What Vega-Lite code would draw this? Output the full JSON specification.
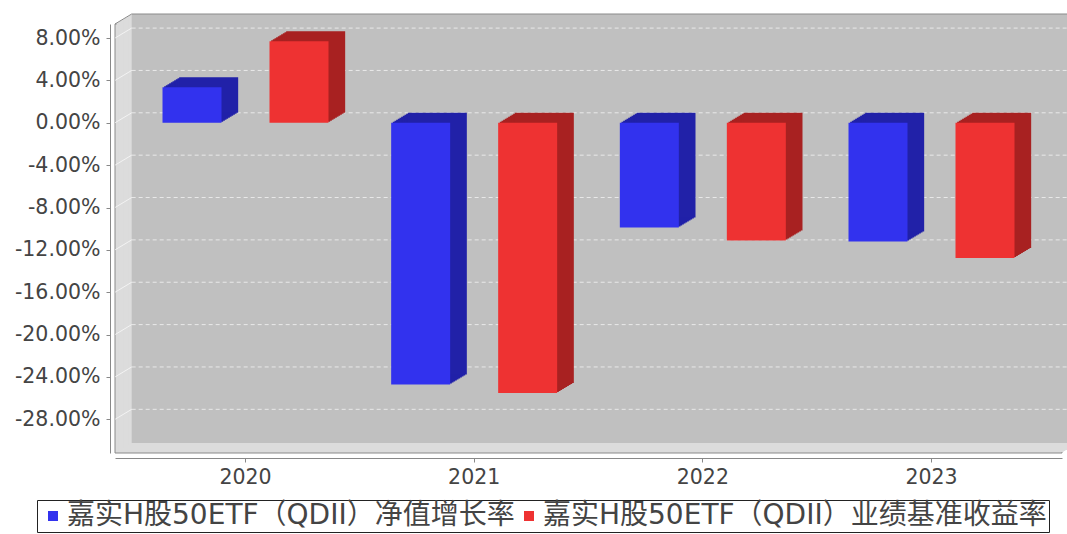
{
  "$schema": "https://vega.github.io/schema/vega-lite/v6.json",
  "width": 947,
  "height": 429,
  "autosize": "none",
  "padding": {"left": 115, "top": 24, "right": 5, "bottom": 81},
  "background": "white",
  "config": {"view": {"stroke": null}},
  "datasets": {
    "bars": [
      {"year": "2020", "series": "嘉实H股50ETF（QDII）净值增长率", "value": 3.35},
      {"year": "2020", "series": "嘉实H股50ETF（QDII）业绩基准收益率", "value": 7.69},
      {"year": "2021", "series": "嘉实H股50ETF（QDII）净值增长率", "value": -24.72},
      {"year": "2021", "series": "嘉实H股50ETF（QDII）业绩基准收益率", "value": -25.51},
      {"year": "2022", "series": "嘉实H股50ETF（QDII）净值增长率", "value": -9.88},
      {"year": "2022", "series": "嘉实H股50ETF（QDII）业绩基准收益率", "value": -11.11},
      {"year": "2023", "series": "嘉实H股50ETF（QDII）净值增长率", "value": -11.21},
      {"year": "2023", "series": "嘉实H股50ETF（QDII）业绩基准收益率", "value": -12.76}
    ],
    "ticks": [{"tick": 8}, {"tick": 4}, {"tick": 0}, {"tick": -4}, {"tick": -8}, {"tick": -12}, {"tick": -16}, {"tick": -20}, {"tick": -24}, {"tick": -28}]
  },
  "layer": [
    {
      "data": {"values": [{"wall": "box"}]},
      "encoding": {
        "x": {"datum": 0, "type": "quantitative", "title": null, "scale": {"domain": [0, 1], "nice": false, "zero": false}, "axis": null},
        "x2": {"datum": 1},
        "y": {"datum": 9.33, "type": "quantitative", "title": null},
        "y2": {"datum": -31.18}
      },
      "layer": [
        {"mark": {"type": "rect", "color": "#dcdcdc", "stroke": "#8a8a8a", "strokeWidth": 1}},
        {"mark": {"type": "rect", "color": "#dcdcdc", "xOffset": 1.667, "x2Offset": 1.667, "yOffset": -1, "y2Offset": -1}},
        {"mark": {"type": "rect", "color": "#dcdcdc", "xOffset": 3.333, "x2Offset": 3.333, "yOffset": -2, "y2Offset": -2}},
        {"mark": {"type": "rect", "color": "#dcdcdc", "xOffset": 5, "x2Offset": 5, "yOffset": -3, "y2Offset": -3}},
        {"mark": {"type": "rect", "color": "#dcdcdc", "xOffset": 6.667, "x2Offset": 6.667, "yOffset": -4, "y2Offset": -4}},
        {"mark": {"type": "rect", "color": "#dcdcdc", "xOffset": 8.333, "x2Offset": 8.333, "yOffset": -5, "y2Offset": -5}},
        {"mark": {"type": "rect", "color": "#dcdcdc", "xOffset": 10, "x2Offset": 10, "yOffset": -6, "y2Offset": -6}},
        {"mark": {"type": "rect", "color": "#dcdcdc", "xOffset": 11.667, "x2Offset": 11.667, "yOffset": -7, "y2Offset": -7}},
        {"mark": {"type": "rect", "color": "#dcdcdc", "xOffset": 13.333, "x2Offset": 13.333, "yOffset": -8, "y2Offset": -8}},
        {"mark": {"type": "rect", "color": "#dcdcdc", "xOffset": 15, "x2Offset": 15, "yOffset": -9, "y2Offset": -9}},
        {"mark": {"type": "rect", "color": "#dcdcdc", "xOffset": 16.667, "x2Offset": 16.667, "yOffset": -10, "y2Offset": -10}},
        {"mark": {"type": "rect", "color": "#c0c0c0", "xOffset": 16.667, "x2Offset": 16.667, "yOffset": -10, "y2Offset": -10}},
        {"mark": {"type": "rule", "color": "#8a8a8a", "xOffset": 16.667, "x2Offset": 16.667, "yOffset": -10, "y2Offset": -10}, "encoding": {"y2": {"datum": 9.33}}},
        {"mark": {"type": "rule", "color": "#8a8a8a", "x2Offset": 16.667, "y2Offset": -10}, "encoding": {"x2": {"datum": 0}, "y2": {"datum": 9.33}}}
      ]
    },
    {
      "data": {"name": "ticks"},
      "mark": {"type": "rule", "color": "#ffffff", "opacity": 0.65, "strokeDash": [4, 3], "xOffset": 16.667, "x2Offset": 16.667, "yOffset": -10, "y2Offset": -10},
      "encoding": {
        "x": {"datum": 0, "type": "quantitative", "title": null, "scale": {"domain": [0, 1], "nice": false, "zero": false}, "axis": null},
        "x2": {"datum": 1},
        "y": {"field": "tick", "type": "quantitative", "title": null},
        "y2": {"field": "tick"}
      }
    },
    {
      "data": {"name": "ticks"},
      "mark": {"type": "rule", "color": "#ffffff", "opacity": 0.65, "x2Offset": 16.667, "y2Offset": -10},
      "encoding": {
        "x": {"datum": 0, "type": "quantitative", "title": null, "scale": {"domain": [0, 1], "nice": false, "zero": false}, "axis": null},
        "x2": {"datum": 0},
        "y": {"field": "tick", "type": "quantitative", "title": null},
        "y2": {"field": "tick"}
      }
    },
    {
      "data": {"name": "bars"},
      "encoding": {
        "x": {
          "field": "year", "type": "nominal", "sort": ["2020", "2021", "2022", "2023"], "title": null,
          "scale": {"paddingInner": 0, "paddingOuter": 0.0707},
          "axis": {"title": null, "labelAngle": 0, "labelFontSize": 20.5, "labelFont": "DejaVu Sans", "labelColor": "#444444", "labelPadding": 5, "tickSize": 4, "tickColor": "#888888", "domainColor": "#888888", "offset": 5, "grid": false}
        },
        "y": {
          "field": "value", "type": "quantitative", "title": null,
          "scale": {"domain": [-31.18, 9.33], "nice": false, "zero": false},
          "axis": {"title": null, "values": [8, 4, 0, -4, -8, -12, -16, -20, -24, -28], "labelExpr": "replace(format(datum.value, '.2f'), '−', '-') + '%'", "labelFontSize": 20.5, "labelFont": "DejaVu Sans", "labelColor": "#444444", "labelPadding": 6, "tickSize": 4, "tickColor": "#888888", "domainColor": "#888888", "offset": 5, "grid": false}
        },
        "y2": {"datum": 0}
      },
      "layer": [
        {"transform": [{"filter": {"field": "series", "equal": "嘉实H股50ETF（QDII）净值增长率"}}], "mark": {"type": "bar", "width": 59, "color": "#2121a8", "xOffset": -51.833, "yOffset": -1, "y2Offset": -1}},
        {"transform": [{"filter": {"field": "series", "equal": "嘉实H股50ETF（QDII）净值增长率"}}], "mark": {"type": "bar", "width": 59, "color": "#2121a8", "xOffset": -50.167, "yOffset": -2, "y2Offset": -2}},
        {"transform": [{"filter": {"field": "series", "equal": "嘉实H股50ETF（QDII）净值增长率"}}], "mark": {"type": "bar", "width": 59, "color": "#2121a8", "xOffset": -48.5, "yOffset": -3, "y2Offset": -3}},
        {"transform": [{"filter": {"field": "series", "equal": "嘉实H股50ETF（QDII）净值增长率"}}], "mark": {"type": "bar", "width": 59, "color": "#2121a8", "xOffset": -46.833, "yOffset": -4, "y2Offset": -4}},
        {"transform": [{"filter": {"field": "series", "equal": "嘉实H股50ETF（QDII）净值增长率"}}], "mark": {"type": "bar", "width": 59, "color": "#2121a8", "xOffset": -45.167, "yOffset": -5, "y2Offset": -5}},
        {"transform": [{"filter": {"field": "series", "equal": "嘉实H股50ETF（QDII）净值增长率"}}], "mark": {"type": "bar", "width": 59, "color": "#2121a8", "xOffset": -43.5, "yOffset": -6, "y2Offset": -6}},
        {"transform": [{"filter": {"field": "series", "equal": "嘉实H股50ETF（QDII）净值增长率"}}], "mark": {"type": "bar", "width": 59, "color": "#2121a8", "xOffset": -41.833, "yOffset": -7, "y2Offset": -7}},
        {"transform": [{"filter": {"field": "series", "equal": "嘉实H股50ETF（QDII）净值增长率"}}], "mark": {"type": "bar", "width": 59, "color": "#2121a8", "xOffset": -40.167, "yOffset": -8, "y2Offset": -8}},
        {"transform": [{"filter": {"field": "series", "equal": "嘉实H股50ETF（QDII）净值增长率"}}], "mark": {"type": "bar", "width": 59, "color": "#2121a8", "xOffset": -38.5, "yOffset": -9, "y2Offset": -9}},
        {"transform": [{"filter": {"field": "series", "equal": "嘉实H股50ETF（QDII）净值增长率"}}], "mark": {"type": "bar", "width": 59, "color": "#2121a8", "xOffset": -36.833, "yOffset": -10, "y2Offset": -10}},
        {"transform": [{"filter": {"field": "series", "equal": "嘉实H股50ETF（QDII）业绩基准收益率"}}], "mark": {"type": "bar", "width": 59, "color": "#a82121", "xOffset": 55.167, "yOffset": -1, "y2Offset": -1}},
        {"transform": [{"filter": {"field": "series", "equal": "嘉实H股50ETF（QDII）业绩基准收益率"}}], "mark": {"type": "bar", "width": 59, "color": "#a82121", "xOffset": 56.833, "yOffset": -2, "y2Offset": -2}},
        {"transform": [{"filter": {"field": "series", "equal": "嘉实H股50ETF（QDII）业绩基准收益率"}}], "mark": {"type": "bar", "width": 59, "color": "#a82121", "xOffset": 58.5, "yOffset": -3, "y2Offset": -3}},
        {"transform": [{"filter": {"field": "series", "equal": "嘉实H股50ETF（QDII）业绩基准收益率"}}], "mark": {"type": "bar", "width": 59, "color": "#a82121", "xOffset": 60.167, "yOffset": -4, "y2Offset": -4}},
        {"transform": [{"filter": {"field": "series", "equal": "嘉实H股50ETF（QDII）业绩基准收益率"}}], "mark": {"type": "bar", "width": 59, "color": "#a82121", "xOffset": 61.833, "yOffset": -5, "y2Offset": -5}},
        {"transform": [{"filter": {"field": "series", "equal": "嘉实H股50ETF（QDII）业绩基准收益率"}}], "mark": {"type": "bar", "width": 59, "color": "#a82121", "xOffset": 63.5, "yOffset": -6, "y2Offset": -6}},
        {"transform": [{"filter": {"field": "series", "equal": "嘉实H股50ETF（QDII）业绩基准收益率"}}], "mark": {"type": "bar", "width": 59, "color": "#a82121", "xOffset": 65.167, "yOffset": -7, "y2Offset": -7}},
        {"transform": [{"filter": {"field": "series", "equal": "嘉实H股50ETF（QDII）业绩基准收益率"}}], "mark": {"type": "bar", "width": 59, "color": "#a82121", "xOffset": 66.833, "yOffset": -8, "y2Offset": -8}},
        {"transform": [{"filter": {"field": "series", "equal": "嘉实H股50ETF（QDII）业绩基准收益率"}}], "mark": {"type": "bar", "width": 59, "color": "#a82121", "xOffset": 68.5, "yOffset": -9, "y2Offset": -9}},
        {"transform": [{"filter": {"field": "series", "equal": "嘉实H股50ETF（QDII）业绩基准收益率"}}], "mark": {"type": "bar", "width": 59, "color": "#a82121", "xOffset": 70.167, "yOffset": -10, "y2Offset": -10}},
        {
          "transform": [{"filter": {"field": "series", "equal": "嘉实H股50ETF（QDII）净值增长率"}}],
          "mark": {"type": "bar", "width": 59, "xOffset": -53.5},
          "encoding": {"color": {"field": "series", "type": "nominal",
            "scale": {"domain": ["嘉实H股50ETF（QDII）净值增长率", "嘉实H股50ETF（QDII）业绩基准收益率"], "range": ["#3232ee", "#ee3232"]},
            "legend": {"title": null, "orient": "none", "legendX": -78, "legendY": 476, "direction": "horizontal", "symbolType": "square", "symbolSize": 100, "symbolStrokeWidth": 0, "labelFontSize": 28, "labelFont": "DejaVu Sans, Noto Sans CJK SC", "labelColor": "#444444", "labelLimit": 1000, "labelOffset": 0, "strokeColor": "#222222", "padding": 2, "columnPadding": 0}}}
        },
        {
          "transform": [{"filter": {"field": "series", "equal": "嘉实H股50ETF（QDII）业绩基准收益率"}}],
          "mark": {"type": "bar", "width": 59, "xOffset": 53.5},
          "encoding": {"color": {"field": "series", "type": "nominal",
            "scale": {"domain": ["嘉实H股50ETF（QDII）净值增长率", "嘉实H股50ETF（QDII）业绩基准收益率"], "range": ["#3232ee", "#ee3232"]},
            "legend": {"title": null, "orient": "none", "legendX": -78, "legendY": 476, "direction": "horizontal", "symbolType": "square", "symbolSize": 100, "symbolStrokeWidth": 0, "labelFontSize": 28, "labelFont": "DejaVu Sans, Noto Sans CJK SC", "labelColor": "#444444", "labelLimit": 1000, "labelOffset": 0, "strokeColor": "#222222", "padding": 2, "columnPadding": 0}}}
        }
      ]
    }
  ],
  "resolve": {"scale": {"x": "independent"}}
}
